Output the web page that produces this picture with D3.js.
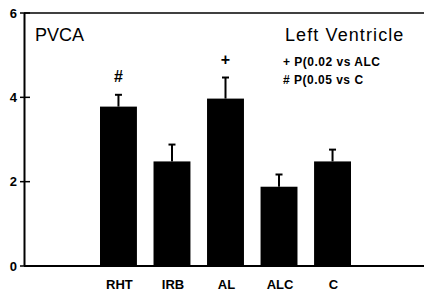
<!DOCTYPE html>
<html>
<head>
<meta charset="utf-8">
<script src="https://cdn.jsdelivr.net/npm/d3@7"></script>
<style>
  body { margin: 0; background: #fff; }
  text { font-family: "Liberation Sans", Arial, sans-serif; fill: #000; }
</style>
</head>
<body>
<div id="chart"></div>
<script>
// data
const groups = ['RHT', 'IRB', 'AL', 'ALC', 'C'];
const means = [3.78, 2.48, 3.97, 1.88, 2.48];
const errors = [0.28, 0.4, 0.5, 0.29, 0.28];
const signs = ['#', '', '+', '', ''];
const yTicks = [0, 2, 4, 6];
const notes = ['+ P(0.02 vs ALC', '# P(0.05 vs C'];

const W = 424, H = 292;

const svg = d3
  .select('#chart')
  .append('svg')
  .attr('width', W)
  .attr('height', H);

const x = d3.scaleBand().domain(groups).range([100, 351]).paddingInner(0.31).paddingOuter(0);
const y = d3.scaleLinear().domain([0, 6]).range([266, 13]);

// frame: left axis, top and bottom lines
svg.append('line')
  .attr('x1', 24.5).attr('x2', 24.5)
  .attr('y1', y(6)).attr('y2', y(0))
  .attr('stroke', '#000').attr('stroke-width', 2);
svg.append('line')
  .attr('x1', 24).attr('x2', W)
  .attr('y1', y(6)).attr('y2', y(6))
  .attr('stroke', '#000').attr('stroke-width', 1.5);
svg.append('line')
  .attr('x1', 24).attr('x2', W)
  .attr('y1', y(0)).attr('y2', y(0))
  .attr('stroke', '#000').attr('stroke-width', 2);

// y ticks (cross the axis)
const tick = svg.selectAll('.tick').data(yTicks).enter().append('g')
  .attr('transform', d => `translate(0, ${y(d)})`);
tick.append('line')
  .attr('x1', 20).attr('x2', 30)
  .attr('stroke', '#000').attr('stroke-width', 1.5);
tick.append('text')
  .attr('x', 17).attr('y', 4.5)
  .attr('text-anchor', 'end')
  .style('font-size', '13px').style('font-weight', 'bold')
  .text(d => d);

// bars
svg.selectAll('.bar').data(groups).enter().append('rect')
  .attr('x', d => x(d))
  .attr('y', (d, i) => y(means[i]))
  .attr('width', x.bandwidth())
  .attr('height', (d, i) => y(0) - y(means[i]))
  .attr('fill', '#000');

// error bars
const eb = svg.selectAll('.err').data(groups).enter().append('g');
eb.append('line')
  .attr('x1', d => x(d) + x.bandwidth() / 2)
  .attr('x2', d => x(d) + x.bandwidth() / 2)
  .attr('y1', (d, i) => y(means[i]))
  .attr('y2', (d, i) => y(means[i] + errors[i]))
  .attr('stroke', '#000').attr('stroke-width', 2);
eb.append('line')
  .attr('x1', d => x(d) + x.bandwidth() / 2 - 3.5)
  .attr('x2', d => x(d) + x.bandwidth() / 2 + 3.5)
  .attr('y1', (d, i) => y(means[i] + errors[i]))
  .attr('y2', (d, i) => y(means[i] + errors[i]))
  .attr('stroke', '#000').attr('stroke-width', 2);

// significance marks
svg.selectAll('.sign').data(groups).enter().append('text')
  .attr('x', d => x(d) + x.bandwidth() / 2)
  .attr('y', (d, i) => y(means[i] + errors[i]) - 13)
  .attr('text-anchor', 'middle')
  .style('font-size', '16px').style('font-weight', 'bold')
  .text((d, i) => signs[i]);

// category labels
svg.selectAll('.cat').data(groups).enter().append('text')
  .attr('x', d => x(d) + x.bandwidth() / 2 + 1)
  .attr('y', 288.5)
  .attr('text-anchor', 'middle')
  .style('font-size', '13px').style('font-weight', 'bold')
  .text(d => d);

// titles
svg.append('text')
  .attr('x', 35).attr('y', 41)
  .style('font-size', '18px')
  .text('PVCA');
svg.append('text')
  .attr('x', 285).attr('y', 41)
  .style('font-size', '18px').style('letter-spacing', '1.1px')
  .text('Left Ventricle');

// legend notes
svg.selectAll('.note').data(notes).enter().append('text')
  .attr('x', 283)
  .attr('y', (d, i) => 66 + i * 18)
  .style('font-size', '12px').style('font-weight', 'bold')
  .style('letter-spacing', '0.5px')
  .text(d => d);
</script>
</body>
</html>
